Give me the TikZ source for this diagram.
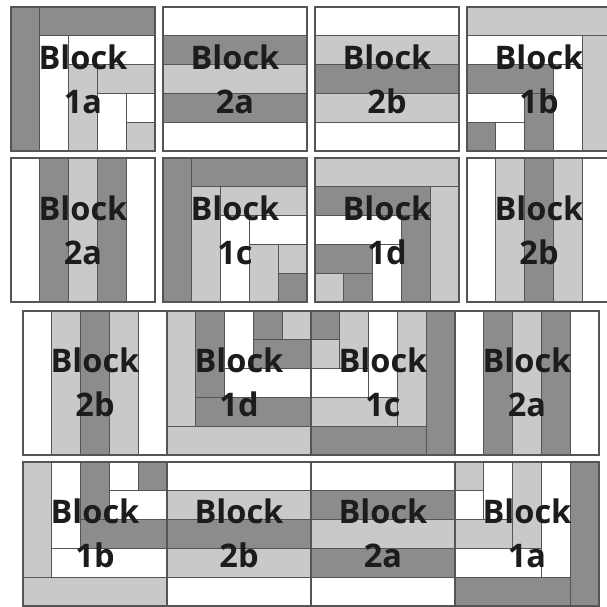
\documentclass[tikz,border=0pt]{standalone}
\usepackage{fontspec}
\newfontfamily\lblfont{Open Sans}
\definecolor{dkq}{RGB}{140,140,142}
\definecolor{ltq}{RGB}{201,201,203}
\definecolor{lnq}{RGB}{85,85,85}
\definecolor{txq}{RGB}{28,28,28}
\tikzset{
 dk/.style={fill=dkq,draw=lnq,line width=0.75pt},
 lt/.style={fill=ltq,draw=lnq,line width=0.75pt},
 wh/.style={fill=white,draw=lnq,line width=0.75pt},
 border/.style={draw=lnq,line width=0.9pt},
 lbl/.style={align=center,font=\lblfont\bfseries\fontsize{18.5}{25}\selectfont,text=txq,inner sep=0pt},
 blk/.style={x=0.576cm,y=-0.576cm},
}
% horizontal stripes: colours top to bottom
\newcommand\hstr[5]{\filldraw[#1](0,0)rectangle(5,1);\filldraw[#2](0,1)rectangle(5,2);\filldraw[#3](0,2)rectangle(5,3);\filldraw[#4](0,3)rectangle(5,4);\filldraw[#5](0,4)rectangle(5,5);\draw[border](0,0)rectangle(5,5);}
% vertical stripes: colours left to right
\newcommand\vstr[5]{\filldraw[#1](0,0)rectangle(1,5);\filldraw[#2](1,0)rectangle(2,5);\filldraw[#3](2,0)rectangle(3,5);\filldraw[#4](3,0)rectangle(4,5);\filldraw[#5](4,0)rectangle(5,5);\draw[border](0,0)rectangle(5,5);}
\newcommand\rr[5]{\filldraw[#1](#2,#3)rectangle(#4,#5);}
\begin{document}
\begin{tikzpicture}[x=0.02cm,y=-0.02cm]
\useasboundingbox (0,0) rectangle (607,606);
\clip (0,0) rectangle (607,606);
\fill[white] (0,0) rectangle (607,606);
% ---------- Row 1 ----------
\begin{scope}[shift={(11,7)},blk]
 \rr{dk}{0}{0}{1}{5}\rr{dk}{1}{0}{5}{1}
 \rr{wh}{1}{1}{2}{5}\rr{wh}{2}{1}{5}{2}
 \rr{lt}{2}{2}{3}{5}\rr{lt}{3}{2}{5}{3}
 \rr{wh}{3}{3}{4}{5}\rr{wh}{4}{3}{5}{4}
 \rr{lt}{4}{4}{5}{5}
 \draw[border](0,0)rectangle(5,5);
\end{scope}
\begin{scope}[shift={(163,7)},blk]\hstr{wh}{dk}{lt}{dk}{wh}\end{scope}
\begin{scope}[shift={(315,7)},blk]\hstr{wh}{lt}{dk}{lt}{wh}\end{scope}
\begin{scope}[shift={(467,7)},blk]
 \rr{lt}{0}{0}{5}{1}\rr{lt}{4}{1}{5}{5}
 \rr{wh}{0}{1}{4}{2}\rr{wh}{3}{2}{4}{5}
 \rr{dk}{0}{2}{3}{3}\rr{dk}{2}{3}{3}{5}
 \rr{wh}{0}{3}{2}{4}\rr{wh}{1}{4}{2}{5}
 \rr{dk}{0}{4}{1}{5}
 \draw[border](0,0)rectangle(5,5);
\end{scope}
% ---------- Row 2 ----------
\begin{scope}[shift={(11,158)},blk]\vstr{wh}{dk}{lt}{dk}{wh}\end{scope}
\begin{scope}[shift={(163,158)},blk]
 \rr{dk}{0}{0}{1}{5}\rr{dk}{1}{0}{5}{1}
 \rr{lt}{1}{1}{2}{5}\rr{lt}{2}{1}{5}{2}
 \rr{wh}{2}{2}{3}{5}\rr{wh}{3}{2}{5}{3}
 \rr{lt}{3}{3}{4}{5}\rr{lt}{4}{3}{5}{4}
 \rr{dk}{4}{4}{5}{5}
 \draw[border](0,0)rectangle(5,5);
\end{scope}
\begin{scope}[shift={(315,158)},blk]
 \rr{lt}{0}{0}{5}{1}\rr{lt}{4}{1}{5}{5}
 \rr{dk}{0}{1}{4}{2}\rr{dk}{3}{2}{4}{5}
 \rr{wh}{0}{2}{3}{3}\rr{wh}{2}{3}{3}{5}
 \rr{dk}{0}{3}{2}{4}\rr{dk}{1}{4}{2}{5}
 \rr{lt}{0}{4}{1}{5}
 \draw[border](0,0)rectangle(5,5);
\end{scope}
\begin{scope}[shift={(467,158)},blk]\vstr{wh}{lt}{dk}{lt}{wh}\end{scope}
% ---------- Row 3 ----------
\begin{scope}[shift={(23,311)},blk]\vstr{wh}{lt}{dk}{lt}{wh}\end{scope}
\begin{scope}[shift={(167,311)},blk]
 \rr{lt}{0}{4}{5}{5}\rr{lt}{0}{0}{1}{4}
 \rr{dk}{1}{3}{5}{4}\rr{dk}{1}{0}{2}{3}
 \rr{wh}{2}{2}{5}{3}\rr{wh}{2}{0}{3}{2}
 \rr{dk}{3}{1}{5}{2}\rr{dk}{3}{0}{4}{1}
 \rr{lt}{4}{0}{5}{1}
 \draw[border](0,0)rectangle(5,5);
\end{scope}
\begin{scope}[shift={(311,311)},blk]
 \rr{dk}{4}{0}{5}{5}\rr{dk}{0}{4}{4}{5}
 \rr{lt}{3}{0}{4}{4}\rr{lt}{0}{3}{3}{4}
 \rr{wh}{2}{0}{3}{3}\rr{wh}{0}{2}{2}{3}
 \rr{lt}{1}{0}{2}{2}\rr{lt}{0}{1}{1}{2}
 \rr{dk}{0}{0}{1}{1}
 \draw[border](0,0)rectangle(5,5);
\end{scope}
\begin{scope}[shift={(455,311)},blk]\vstr{wh}{dk}{lt}{dk}{wh}\end{scope}
% ---------- Row 4 ----------
\begin{scope}[shift={(23,462)},blk]
 \rr{lt}{0}{4}{5}{5}\rr{lt}{0}{0}{1}{4}
 \rr{wh}{1}{3}{5}{4}\rr{wh}{1}{0}{2}{3}
 \rr{dk}{2}{2}{5}{3}\rr{dk}{2}{0}{3}{2}
 \rr{wh}{3}{1}{5}{2}\rr{wh}{3}{0}{4}{1}
 \rr{dk}{4}{0}{5}{1}
 \draw[border](0,0)rectangle(5,5);
\end{scope}
\begin{scope}[shift={(167,462)},blk]\hstr{wh}{lt}{dk}{lt}{wh}\end{scope}
\begin{scope}[shift={(311,462)},blk]\hstr{wh}{dk}{lt}{dk}{wh}\end{scope}
\begin{scope}[shift={(455,462)},blk]
 \rr{dk}{4}{0}{5}{5}\rr{dk}{0}{4}{4}{5}
 \rr{wh}{3}{0}{4}{4}\rr{wh}{0}{3}{3}{4}
 \rr{lt}{2}{0}{3}{3}\rr{lt}{0}{2}{2}{3}
 \rr{wh}{1}{0}{2}{2}\rr{wh}{0}{1}{1}{2}
 \rr{lt}{0}{0}{1}{1}
 \draw[border](0,0)rectangle(5,5);
\end{scope}
% ---------- Labels ----------
\node[lbl] (l11) at (83,79) {Block\\1a};
\node[lbl] (l12) at (235,79) {Block\\2a};
\node[lbl] (l13) at (387,79) {Block\\2b};
\node[lbl] (l14) at (539,79) {Block\\1b};
\node[lbl] (l21) at (83,230) {Block\\2a};
\node[lbl] (l22) at (235,230) {Block\\1c};
\node[lbl] (l23) at (387,230) {Block\\1d};
\node[lbl] (l24) at (539,230) {Block\\2b};
\node[lbl] (l31) at (95,382) {Block\\2b};
\node[lbl] (l32) at (239,382) {Block\\1d};
\node[lbl] (l33) at (383,382) {Block\\1c};
\node[lbl] (l34) at (527,382) {Block\\2a};
\node[lbl] (l41) at (95,533) {Block\\1b};
\node[lbl] (l42) at (239,533) {Block\\2b};
\node[lbl] (l43) at (383,533) {Block\\2a};
\node[lbl] (l44) at (527,533) {Block\\1a};
\end{tikzpicture}
\end{document}
